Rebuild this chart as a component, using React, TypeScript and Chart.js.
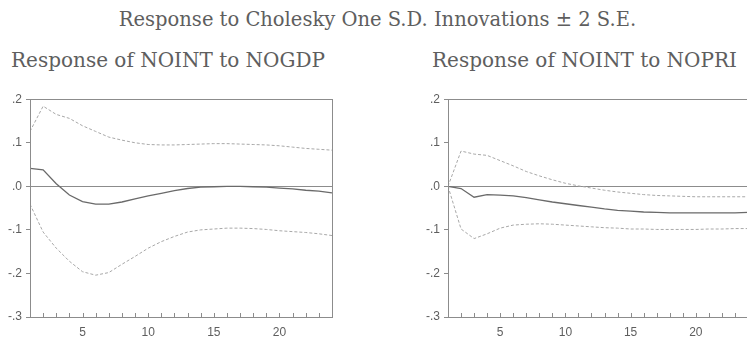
import React, { useEffect, useRef } from "react";
import { Chart, registerables } from "chart.js";
Chart.register(...registerables);

const mainTitle = "Response to Cholesky One S.D. Innovations \u00b1 2 S.E.";
const panelTitles = ["Response of NOINT to NOGDP", "Response of NOINT to NOPRI"];

const periods = [1, 2, 3, 4, 5, 6, 7, 8, 9, 10, 11, 12, 13, 14, 15, 16, 17, 18, 19, 20, 21, 22, 23, 24];
const xTickLabels = [5, 10, 15, 20];
const yTickValues = [0.2, 0.1, 0, -0.1, -0.2, -0.3];

const gdpResponse = [0.041, 0.038, 0.006, -0.02, -0.035, -0.041, -0.041, -0.036, -0.029, -0.022, -0.016, -0.01, -0.005, -0.002, -0.001, 0, 0, -0.001, -0.002, -0.004, -0.006, -0.009, -0.011, -0.015];
const gdpUpper = [0.126, 0.184, 0.165, 0.156, 0.139, 0.126, 0.113, 0.106, 0.1, 0.096, 0.095, 0.095, 0.096, 0.097, 0.098, 0.098, 0.097, 0.096, 0.095, 0.093, 0.09, 0.087, 0.085, 0.083];
const gdpLower = [-0.041, -0.105, -0.142, -0.172, -0.196, -0.204, -0.198, -0.179, -0.161, -0.142, -0.127, -0.115, -0.105, -0.1, -0.098, -0.096, -0.096, -0.097, -0.099, -0.102, -0.104, -0.106, -0.109, -0.113];

const priResponse = [0, -0.005, -0.025, -0.019, -0.02, -0.022, -0.026, -0.031, -0.036, -0.04, -0.044, -0.048, -0.052, -0.055, -0.057, -0.059, -0.06, -0.061, -0.061, -0.061, -0.061, -0.061, -0.061, -0.06];
const priUpper = [0, 0.081, 0.074, 0.071, 0.059, 0.047, 0.034, 0.024, 0.015, 0.007, 0.001, -0.004, -0.009, -0.013, -0.016, -0.019, -0.021, -0.022, -0.023, -0.024, -0.024, -0.024, -0.024, -0.024];
const priLower = [0, -0.098, -0.12, -0.109, -0.096, -0.089, -0.087, -0.086, -0.087, -0.089, -0.091, -0.093, -0.095, -0.096, -0.098, -0.098, -0.099, -0.099, -0.099, -0.099, -0.098, -0.098, -0.097, -0.097];

const AXIS = "#8c8c8c";
const TEXT = "#5e5e5e";

const fmtY = (v: number) => {
  const n = Math.round(v * 10);
  if (n === 0) return ".0";
  return n < 0 ? "-." + -n : "." + n;
};

const framePlugin = {
  id: "frame",
  afterDraw(chart: any) {
    const { ctx, chartArea: a, scales } = chart;
    ctx.save();
    ctx.strokeStyle = AXIS;
    ctx.lineWidth = 1;
    ctx.strokeRect(Math.round(a.left) + 0.5, Math.round(a.top) + 0.5, Math.round(a.right - a.left), Math.round(a.bottom - a.top));
    ctx.beginPath();
    for (const p of periods) {
      const x = Math.round(scales.x.getPixelForValue(p)) + 0.5;
      ctx.moveTo(x, a.bottom);
      ctx.lineTo(x, a.bottom - 4);
    }
    ctx.stroke();
    ctx.restore();
  },
};

function Panel(props: { response: number[]; upper: number[]; lower: number[]; left: number; width: number; padRight: number }) {
  const ref = useRef<HTMLCanvasElement>(null);
  useEffect(() => {
    if (!ref.current) return;
    const dashed = { borderColor: "#a8a8a8", borderWidth: 1, borderDash: [3, 2], pointRadius: 0, tension: 0, fill: false };
    const chart = new Chart(ref.current, {
      type: "line",
      data: {
        datasets: [
          { data: periods.map((p, i) => ({ x: p, y: props.upper[i] })), ...dashed },
          { data: periods.map((p, i) => ({ x: p, y: props.lower[i] })), ...dashed },
          { data: periods.map((p, i) => ({ x: p, y: props.response[i] })), borderColor: "#6a6a6a", borderWidth: 1.3, pointRadius: 0, tension: 0, fill: false },
        ],
      },
      options: {
        animation: false,
        responsive: false,
        maintainAspectRatio: false,
        layout: { padding: { top: 4, right: props.padRight, left: 0, bottom: 0 } },
        plugins: { legend: { display: false }, tooltip: { enabled: false }, title: { display: false } },
        scales: {
          x: {
            type: "linear",
            min: 1,
            max: 24,
            afterFit: (s: any) => { s.height = 22; },
            afterBuildTicks: (s: any) => { s.ticks = xTickLabels.map((v) => ({ value: v })); },
            ticks: { color: TEXT, font: { family: "Liberation Sans", size: 12 }, padding: 8, maxRotation: 0, autoSkip: false },
            grid: { display: false, drawTicks: false },
            border: { display: false },
          },
          y: {
            min: -0.3,
            max: 0.2,
            afterFit: (s: any) => { s.width = 30; },
            afterBuildTicks: (s: any) => { s.ticks = yTickValues.map((v) => ({ value: v })); },
            ticks: { color: TEXT, font: { family: "Liberation Sans", size: 12 }, padding: 4, callback: (v: any) => fmtY(Number(v)) },
            grid: {
              color: (c: any) => (c.tick && Math.abs(c.tick.value) < 1e-9 ? AXIS : "rgba(0,0,0,0)"),
              tickColor: AXIS,
              tickLength: 4,
              lineWidth: 1,
            },
            border: { display: false },
          },
        },
      },
      plugins: [framePlugin],
    });
    return () => chart.destroy();
  }, []);
  return (
    <canvas
      ref={ref}
      width={props.width}
      height={251}
      style={{ position: "absolute", left: props.left, top: 88, width: props.width, height: 251 }}
    />
  );
}

export default function App() {
  const serif = "'DejaVu Serif', serif";
  return (
    <div style={{ position: "fixed", left: 0, top: 0, width: 747, height: 339, overflow: "hidden", background: "#fff" }}>
      <div style={{ position: "absolute", left: 4, width: 747, top: 8, textAlign: "center", fontFamily: serif, fontSize: 19.5, color: TEXT, whiteSpace: "nowrap" }}>
        {mainTitle}
      </div>
      <div style={{ position: "absolute", left: 11, top: 48, fontFamily: serif, fontSize: 20, color: TEXT, whiteSpace: "nowrap" }}>
        {panelTitles[0]}
      </div>
      <div style={{ position: "absolute", left: 432, top: 48, fontFamily: serif, fontSize: 20, color: TEXT, whiteSpace: "nowrap" }}>
        {panelTitles[1]}
      </div>
      <Panel response={gdpResponse} upper={gdpUpper} lower={gdpLower} left={0} width={340} padRight={8} />
      <Panel response={priResponse} upper={priUpper} lower={priLower} left={418} width={340} padRight={10} />
    </div>
  );
}
